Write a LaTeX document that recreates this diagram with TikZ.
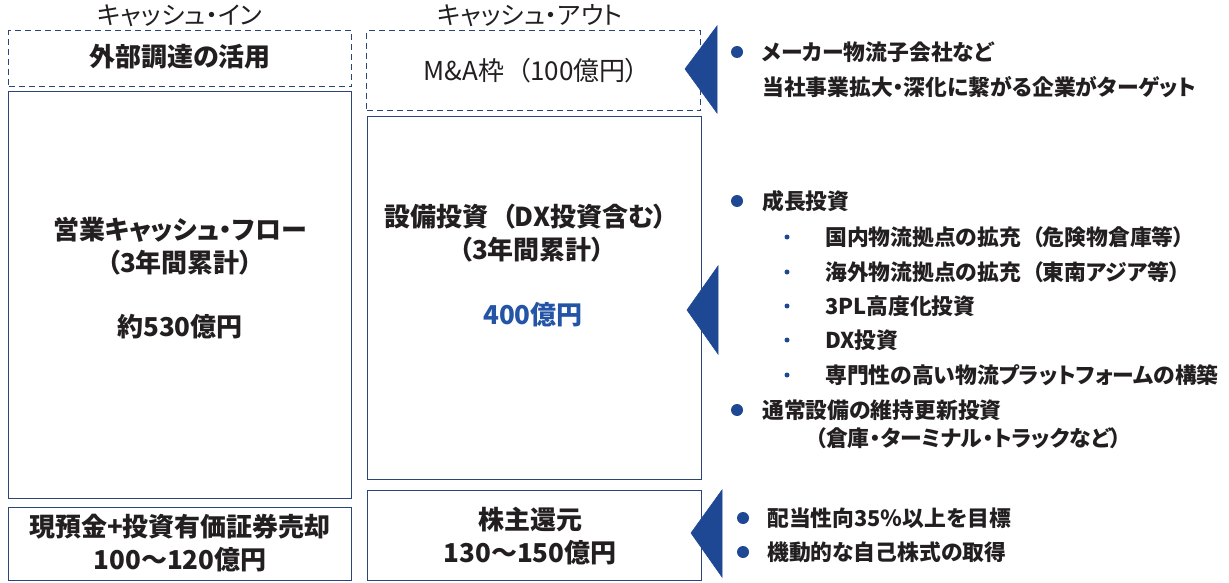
\documentclass[tikz,border=0pt]{standalone}
\usepackage{fontspec}
\setmainfont{Noto Sans CJK JP}[CharacterWidth=AlternateProportional]
\definecolor{boxc}{RGB}{44,68,120}
\definecolor{tri}{RGB}{30,72,148}
\definecolor{txt}{RGB}{35,31,32}
\definecolor{blu}{RGB}{36,84,166}
\newcommand{\lpar}{\hspace{0.5em}（}
\tikzset{
  box/.style={draw=boxc, line width=1.3pt, inner sep=0pt, anchor=north west},
  dbox/.style={box, dash pattern=on 6pt off 4pt},
  tl/.style={text=txt, inner sep=0pt, text height=0.88em, text depth=0.12em, yshift=-6pt,
    font=\fontsize{26}{30}\selectfont\bfseries},
  hd/.style={text=txt, inner sep=0pt, text height=0.88em, text depth=0.12em, yshift=-7pt,
    font=\fontsize{25}{30}\selectfont},
  rt/.style={text=txt, inner sep=0pt, anchor=west, text height=0.88em, text depth=0.12em, yshift=-5pt,
    font=\fontsize{21.8}{26}\selectfont\bfseries},
  bb/.style={circle, fill=tri, inner sep=0pt, minimum size=12pt},
  sb/.style={circle, fill=tri, inner sep=0pt, minimum size=5pt},
  trif/.style={fill=tri, draw=tri, line width=0.6pt, line join=miter}
}
\begin{document}
\begin{tikzpicture}[x=1pt,y=-1pt]
\useasboundingbox (0,0) rectangle (1229,583);
% headers
\node[hd] (hin) at (180,14) {キャッシュ・イン};
\node[hd] (hout) at (530,14) {キャッシュ・アウト};
% left column
\node[dbox, minimum width=343pt, minimum height=56pt] (ext) at (8,30) {};
\node[box, minimum width=343pt, minimum height=407pt] (ocf) at (8,91) {};
\node[box, minimum width=343pt, minimum height=73pt] (cash) at (8,507) {};
% middle column
\node[dbox, minimum width=334pt, minimum height=80pt] (ma) at (366,30) {};
\node[box, minimum width=334pt, minimum height=363pt] (capex) at (367,116) {};
\node[box, minimum width=334pt, minimum height=90pt] (ret) at (367,490) {};
% box texts
\node[tl] (t1) at (180,57) {外部調達の活用};
\node[tl, font=\fontsize{26}{30}\selectfont] (t2) at (531,71) {M\&A枠\lpar 100億円）};
\node[tl] (t3) at (180,230) {営業キャッシュ・フロー};
\node[tl] (t4) at (180,263) {（3年間累計）};
\node[tl] (t5) at (180,327) {約530億円};
\node[tl] (t6) at (526,217) {設備投資\lpar DX投資含む）};
\node[tl] (t7) at (532,250) {（3年間累計）};
\node[tl, text=blu] (t8) at (533,315) {400億円};
\node[tl] (t9) at (180,527) {現預金+投資有価証券売却};
\node[tl] (t10) at (180,560) {100～120億円};
\node[tl] (t11) at (530,520) {株主還元};
\node[tl] (t12) at (530,553) {130～150億円};
% triangles
\coordinate (a1) at (685,69);
\coordinate (a2) at (687,310);
\coordinate (a3) at (691,533);
\fill[trif] (a1) -- (717,26) -- (717,113) -- cycle;
\fill[trif] (a2) -- (718,266) -- (718,354) -- cycle;
\fill[trif] (a3) -- (722,490) -- (722,577) -- cycle;
% right texts
\node[bb] (b1) at (737,52) {};
\node[rt] (r1) at (762,52) {メーカー物流子会社など};
\node[rt] (r2) at (762,87) {当社事業拡大・深化に繋がる企業がターゲット};
\node[bb] (b2) at (737,201) {};
\node[rt] (r3) at (762,201) {成長投資};
\node[sb] (s1) at (787,237) {};
\node[rt] (r4) at (825,237) {国内物流拠点の拡充\lpar 危険物倉庫等）};
\node[sb] (s2) at (787,272) {};
\node[rt] (r5) at (825,272) {海外物流拠点の拡充\lpar 東南アジア等）};
\node[sb] (s3) at (787,306) {};
\node[rt] (r6) at (825,306) {3PL高度化投資};
\node[sb] (s4) at (787,340) {};
\node[rt] (r7) at (825,340) {DX投資};
\node[sb] (s5) at (787,375) {};
\node[rt] (r8) at (825,375) {専門性の高い物流プラットフォームの構築};
\node[bb] (b3) at (737,410) {};
\node[rt] (r9) at (762,410) {通常設備の維持更新投資};
\node[rt] (r10) at (815,438) {（倉庫・ターミナル・トラックなど）};
\node[bb] (b4) at (743,518) {};
\node[rt] (r11) at (767,518) {配当性向35％以上を目標};
\node[bb] (b5) at (743,552) {};
\node[rt] (r12) at (767,552) {機動的な自己株式の取得};
\end{tikzpicture}
\end{document}
